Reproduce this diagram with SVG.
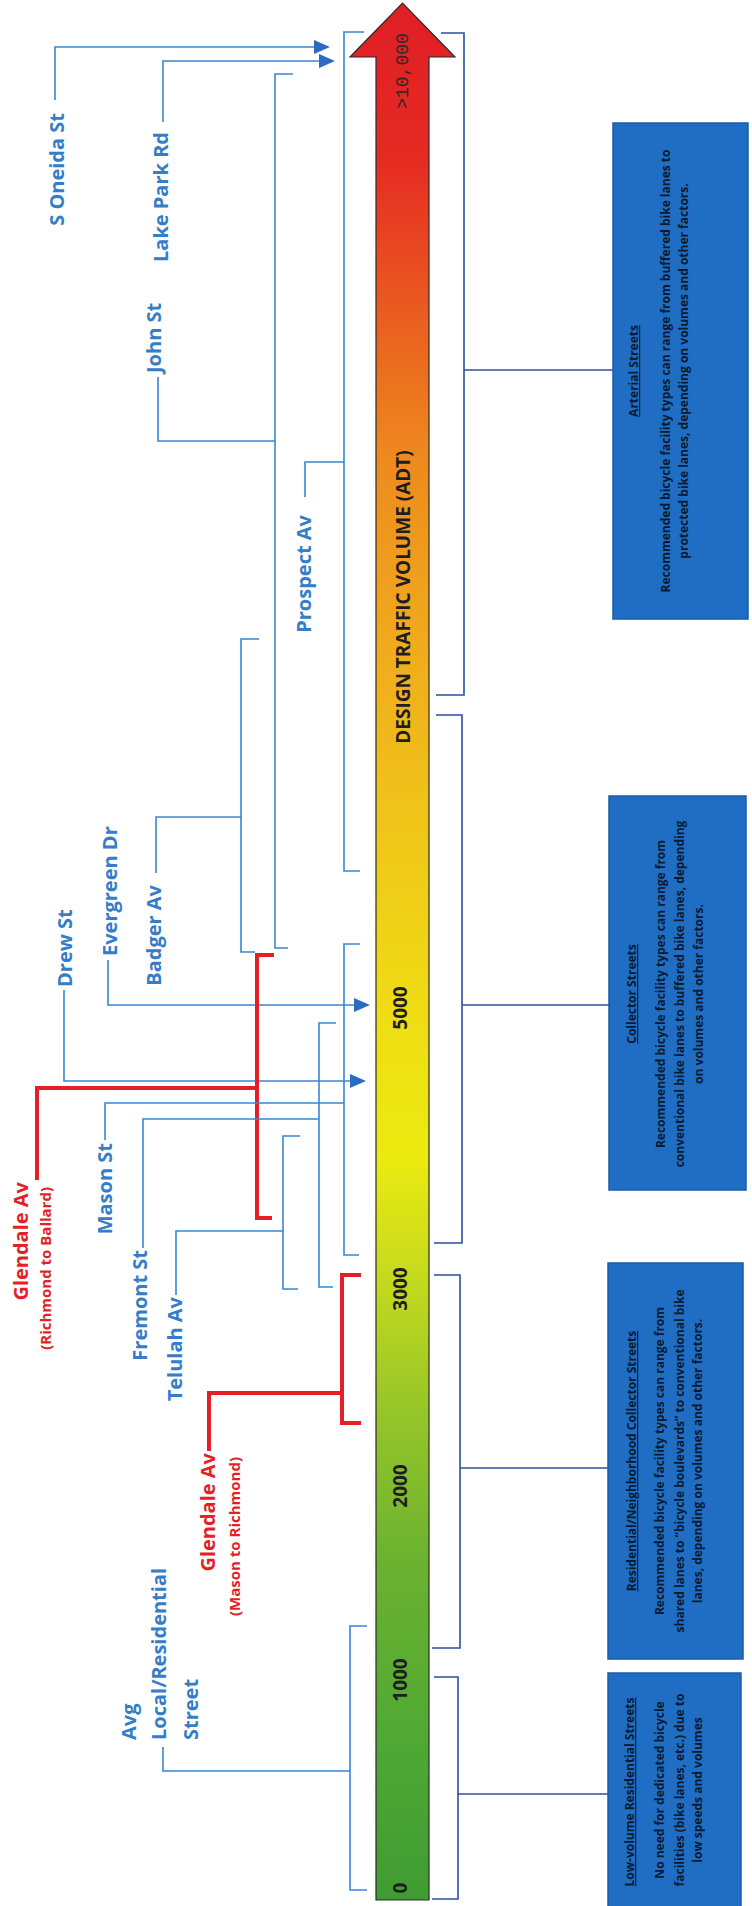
<svg xmlns="http://www.w3.org/2000/svg" width="752" height="1906" viewBox="0 0 752 1906">
<defs>
<linearGradient id="adt" gradientUnits="userSpaceOnUse" x1="0" y1="3" x2="0" y2="1900">
<stop offset="0" stop-color="#e01e26"/>
<stop offset="0.08" stop-color="#e52a22"/>
<stop offset="0.16" stop-color="#ea5a20"/>
<stop offset="0.24" stop-color="#ee8a1e"/>
<stop offset="0.33" stop-color="#f0a81c"/>
<stop offset="0.42" stop-color="#f0c21a"/>
<stop offset="0.53" stop-color="#efdc14"/>
<stop offset="0.61" stop-color="#ebea10"/>
<stop offset="0.67" stop-color="#c6da1e"/>
<stop offset="0.74" stop-color="#98c628"/>
<stop offset="0.82" stop-color="#6cb230"/>
<stop offset="0.92" stop-color="#4ea834"/>
<stop offset="1" stop-color="#3f9c32"/>
</linearGradient>
<marker id="ah" viewBox="0 0 16 14" refX="0" refY="7" markerWidth="16" markerHeight="14" markerUnits="userSpaceOnUse" orient="auto">
<path d="M0,0 L16,7 L0,14 Z" fill="#2b6cc0"/>
</marker>
<style>
.lbl{font-family:"Open Sans","Liberation Sans",sans-serif;font-weight:700;font-size:20px;fill:#347dc9}
.red{fill:#e51f28}
.sub{font-size:15px}
.num{font-family:"Open Sans","Liberation Sans",sans-serif;font-weight:700;font-size:19px;fill:#1e1e1e;text-anchor:middle}
.mono{font-family:"Liberation Mono",monospace;font-size:18px;fill:#2a2a2a;text-anchor:middle}
.box{fill:#1f6ec4;stroke:#1a5cab;stroke-width:1.5}
.bt{font-family:"Open Sans","Liberation Sans",sans-serif;font-weight:700;font-size:12px;fill:#0a1a30;text-anchor:middle}
.ttl{text-decoration:underline}
.cl{fill:none;stroke:#3a86d4;stroke-width:1.6}
.cr{fill:none;stroke:#2b509e;stroke-width:1.6}
.cred{fill:none;stroke:#e51f28;stroke-width:4}
</style>
</defs>
<rect width="752" height="1906" fill="#ffffff"/>

<g id="bar">
<path d="M376,1900 V57 H350 L402.5,3 L455,57 H429 V1900 Z" fill="url(#adt)" stroke="#2a2a2a" stroke-width="1.2"/>
<text class="mono" transform="translate(408,71) rotate(-90)">&gt;10,000</text>
<text class="num" transform="translate(410,597) rotate(-90)">DESIGN TRAFFIC VOLUME (ADT)</text>
<text class="num" transform="translate(407,1008) rotate(-90)">5000</text>
<text class="num" transform="translate(407,1289) rotate(-90)">3000</text>
<text class="num" transform="translate(407,1486) rotate(-90)">2000</text>
<text class="num" transform="translate(407,1680) rotate(-90)">1000</text>
<text class="num" transform="translate(407,1888) rotate(-90)">0</text>
</g>

<g id="connectors">
<path class="cl" d="M55,100 V47 H314" marker-end="url(#ah)"/>
<path class="cl" d="M163,122 V61 H319" marker-end="url(#ah)"/>
<path class="cl" d="M158,377 V441 H275"/>
<path class="cl" d="M293,74 H275 V948 H288"/>
<path class="cl" d="M305,497 V462 H344"/>
<path class="cl" d="M364,32 H344 V871 H360"/>
<path class="cl" d="M156,873 V817 H241"/>
<path class="cl" d="M259,639 H241 V952 H255"/>
<path class="cl" d="M108,960 V1005 H354" marker-end="url(#ah)"/>
<path class="cl" d="M64,990 V1081 H350" marker-end="url(#ah)"/>
<path class="cred" d="M37,1180 V1088 H257"/>
<path class="cred" d="M274,955 H257 V1218 H272"/>
<path class="cl" d="M105,1140 V1103 H344"/>
<path class="cl" d="M360,944 H344 V1255 H359"/>
<path class="cl" d="M143,1248 V1119 H319"/>
<path class="cl" d="M336,1023 H319 V1287 H333"/>
<path class="cl" d="M176,1295 V1231 H283"/>
<path class="cl" d="M300,1136 H283 V1289 H298"/>
<path class="cred" d="M209,1451 V1393 H342"/>
<path class="cred" d="M361,1275 H342 V1423 H361"/>
<path class="cl" d="M163,1747 V1771 H350"/>
<path class="cl" d="M367,1626 H350 V1890 H367"/>
<path class="cr" d="M441,33 H464 V695 H436"/>
<path class="cr" d="M464,370 H613"/>
<path class="cr" d="M436,715 H462 V1243 H434"/>
<path class="cr" d="M462,1005 H609"/>
<path class="cr" d="M434,1275 H460 V1648 H432"/>
<path class="cr" d="M460,1468 H608"/>
<path class="cr" d="M434,1677 H458 V1899 H432"/>
<path class="cr" d="M458,1794 H608"/>
</g>

<g id="s-oneida"><text class="lbl" text-anchor="end" transform="translate(64,113) rotate(-90)">S Oneida St</text></g>
<g id="lake-park"><text class="lbl" text-anchor="end" transform="translate(168,132) rotate(-90)">Lake Park Rd</text></g>
<g id="john"><text class="lbl" text-anchor="start" transform="translate(161,373) rotate(-90)">John St</text></g>
<g id="prospect"><text class="lbl" text-anchor="end" transform="translate(311,515) rotate(-90)">Prospect Av</text></g>
<g id="badger"><text class="lbl" text-anchor="end" transform="translate(161,885) rotate(-90)">Badger Av</text></g>
<g id="evergreen"><text class="lbl" text-anchor="start" transform="translate(117,956) rotate(-90)">Evergreen Dr</text></g>
<g id="drew"><text class="lbl" text-anchor="start" transform="translate(72,987) rotate(-90)">Drew St</text></g>
<g id="glendale-rb">
<text class="lbl red" text-anchor="end" transform="translate(28,1182) rotate(-90)">Glendale Av</text>
<text class="lbl red sub" text-anchor="end" transform="translate(51,1187) rotate(-90)">(Richmond to Ballard)</text>
</g>
<g id="mason"><text class="lbl" text-anchor="end" transform="translate(112,1143) rotate(-90)">Mason St</text></g>
<g id="fremont"><text class="lbl" text-anchor="end" transform="translate(147,1250) rotate(-90)">Fremont St</text></g>
<g id="telulah"><text class="lbl" text-anchor="end" transform="translate(182,1297) rotate(-90)">Telulah Av</text></g>
<g id="glendale-mr">
<text class="lbl red" text-anchor="end" transform="translate(215,1453) rotate(-90)">Glendale Av</text>
<text class="lbl red sub" text-anchor="end" transform="translate(240,1457) rotate(-90)">(Mason to Richmond)</text>
</g>
<g id="avg-local">
<text class="lbl" text-anchor="start" transform="translate(136,1740) rotate(-90)">Avg</text>
<text class="lbl" text-anchor="start" transform="translate(166,1740) rotate(-90)">Local/Residential</text>
<text class="lbl" text-anchor="start" transform="translate(198,1740) rotate(-90)">Street</text>
</g>

<g id="arterial">
<rect class="box" x="613" y="123" width="135" height="496"/>
<text class="bt ttl" transform="translate(638,371) rotate(-90)">Arterial Streets</text>
<text class="bt" transform="translate(670,371) rotate(-90)">Recommended bicycle facility types can range from buffered bike lanes to</text>
<text class="bt" transform="translate(688,371) rotate(-90)">protected bike lanes, depending on volumes and other factors.</text>
</g>
<g id="collector">
<rect class="box" x="609" y="796" width="137" height="394"/>
<text class="bt ttl" transform="translate(636,994) rotate(-90)">Collector Streets</text>
<text class="bt" transform="translate(665,994) rotate(-90)">Recommended bicycle facility types can range from</text>
<text class="bt" transform="translate(684,994) rotate(-90)">conventional bike lanes to buffered bike lanes, depending</text>
<text class="bt" transform="translate(703,994) rotate(-90)">on volumes and other factors.</text>
</g>
<g id="residential">
<rect class="box" x="608" y="1263" width="135" height="396"/>
<text class="bt ttl" transform="translate(636,1461) rotate(-90)">Residential/Neighborhood Collector Streets</text>
<text class="bt" transform="translate(664,1461) rotate(-90)">Recommended bicycle facility types can range from</text>
<text class="bt" transform="translate(684,1461) rotate(-90)">shared lanes to “bicycle boulevards” to conventional bike</text>
<text class="bt" transform="translate(702,1461) rotate(-90)">lanes, depending on volumes and other factors.</text>
</g>
<g id="low-volume">
<rect class="box" x="608" y="1673" width="133" height="240"/>
<text class="bt ttl" transform="translate(634,1792) rotate(-90)">Low-volume Residential Streets</text>
<text class="bt" transform="translate(664,1790) rotate(-90)">No need for dedicated bicycle</text>
<text class="bt" transform="translate(684,1790) rotate(-90)">facilities (bike lanes, etc.) due to</text>
<text class="bt" transform="translate(702,1790) rotate(-90)">low speeds and volumes</text>
</g>
</svg>
